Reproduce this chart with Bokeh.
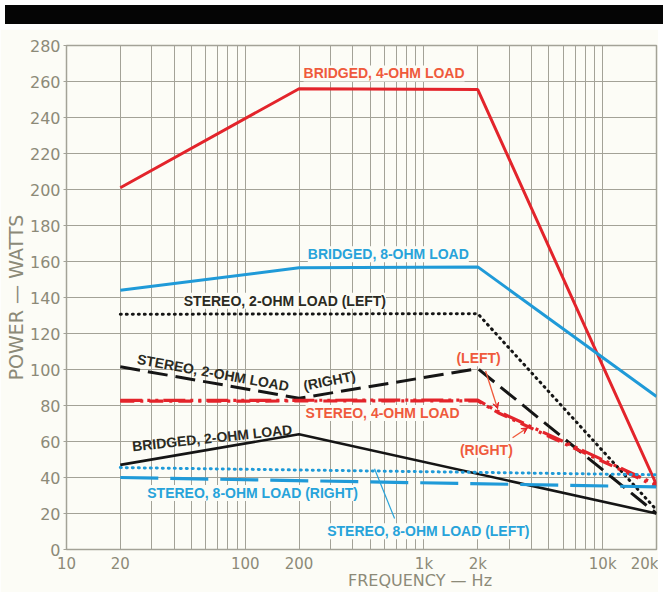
import math
from bokeh.plotting import figure
from bokeh.models import Range1d, FixedTicker, Label, Arrow, VeeHead, Div, Title
from bokeh.layouts import column
from bokeh.embed import file_html
from bokeh.resources import INLINE

# ---------------- data ----------------
freq_major = [10, 20, 100, 200, 1000, 2000, 10000, 20000]
freq_labels = ["10", "20", "100", "200", "1k", "2k", "10k", "20k"]
freq_minor = [30, 40, 50, 60, 70, 80, 90,
              300, 400, 500, 600, 700, 800, 900,
              3000, 4000, 5000, 6000, 7000, 8000, 9000]
power_ticks = [0, 20, 40, 60, 80, 100, 120, 140, 160, 180, 200, 220, 240, 260, 280]

bridged4_f = [20, 200, 2000, 20000]
bridged4_w = [201, 256, 255.5, 36]
bridged8_f = [20, 200, 2000, 20000]
bridged8_w = [144, 156.5, 157, 85]
bridged2_f = [20, 200, 20000]
bridged2_w = [47, 64, 20]
stereo2L_f = [20, 2000, 20000]
stereo2L_w = [130.7, 131, 22]
stereo2R_f = [20, 200, 2000, 20000]
stereo2R_w = [101.5, 84, 100.5, 20]
stereo4L_f = [20, 2000, 2500, 20000]
stereo4L_w = [82.8, 83, 77.5, 36]
stereo4R_f = [20, 2000, 2600, 20000]
stereo4R_w = [82.4, 82.6, 76, 35]
stereo8L_f = [20, 20000]
stereo8L_w = [45.5, 41.5]
stereo8R_f = [20, 20000]
stereo8R_w = [40, 34.8]

# ---------------- styles ----------------
BG = "#fcfcf6"
GRID = "#a3a297"
RED = "#e3242b"
RED_T = "#ef5a3c"
BLUE = "#1f9ad8"
BLUE_T = "#27a3da"
BLACK = "#151515"
BLACK_T = "#2a2a22"
AXIS_T = "#8c8a78"
FONT = "Liberation Sans"
W = 658

bar = Div(text="", width=W, height=19, styles={"background-color": "#050505"})

p = figure(width=W, height=563, x_axis_type="log",
           x_range=Range1d(10, 20000), y_range=Range1d(0, 280),
           output_backend="svg", toolbar_location=None, title=None,
           min_border_left=66, min_border_right=2,
           min_border_top=16, min_border_bottom=40)
p.background_fill_color = BG
p.border_fill_color = BG
p.outline_line_color = GRID
p.outline_line_width = 1.5

p.xaxis.ticker = FixedTicker(ticks=freq_major, minor_ticks=freq_minor)
p.xaxis.major_label_overrides = {float(f): l for f, l in zip(freq_major, freq_labels)}
p.yaxis.ticker = FixedTicker(ticks=power_ticks)
for ax in (p.xaxis, p.yaxis):
    ax.axis_line_color = None
    ax.minor_tick_line_color = None
    ax.major_tick_in = 0
    ax.major_label_text_font = "DejaVu Sans"
    ax.major_label_text_font_size = "16px"
    ax.major_label_text_color = AXIS_T
    ax.major_label_standoff = 3
    ax.major_tick_line_color = GRID
p.xaxis.major_tick_out = 0
p.xaxis.major_label_standoff = 1
p.xaxis.major_label_text_font_size = "15px"
p.yaxis.major_tick_out = 3

# x-axis title: shifted right of the frame centre like the original
p.xaxis.axis_label = "\u00a0" * 23 + "FREQUENCY \u2014 Hz"
p.xaxis.axis_label_standoff = -5
p.xaxis.axis_label_text_font = "DejaVu Sans"
p.xaxis.axis_label_text_font_size = "16px"
p.xaxis.axis_label_text_font_style = "normal"
p.xaxis.axis_label_text_color = AXIS_T

p.add_layout(Title(text="POWER \u2014 WATTS", align="center", standoff=0,
                   text_font="DejaVu Sans", text_font_size="19px",
                   text_font_style="normal", text_color=AXIS_T), "left")

p.xgrid.grid_line_color = GRID
p.xgrid.minor_grid_line_color = GRID
p.ygrid.grid_line_color = GRID
p.xgrid.grid_line_width = 1
p.ygrid.grid_line_width = 1

# ---------------- lines ----------------
p.line(bridged4_f, bridged4_w, line_color=RED, line_width=3)
p.line(bridged8_f, bridged8_w, line_color=BLUE, line_width=3)
p.line(bridged2_f, bridged2_w, line_color=BLACK, line_width=2.6)
p.line(stereo2L_f, stereo2L_w, line_color=BLACK, line_width=3,
       line_dash="1 5", line_cap="round")
p.line(stereo2R_f, stereo2R_w, line_color=BLACK, line_width=3, line_dash="20 8")
p.line(stereo4L_f, stereo4L_w, line_color=RED, line_width=3.2, line_dash="22 5 3 5 3 5")
p.line(stereo4R_f, stereo4R_w, line_color=RED, line_width=3.2, line_dash="14 6 3 6")
p.line(stereo8L_f, stereo8L_w, line_color=BLUE, line_width=3,
       line_dash="1 5", line_cap="round")
p.line(stereo8R_f, stereo8R_w, line_color=BLUE, line_width=3.2, line_dash="38 12")

# ---------------- annotations ----------------
def lab(text, x, y, color, angle=0.0, align="left", bg=True):
    p.add_layout(Label(x=x, y=y, text=text, angle=angle,
                       text_align=align, text_baseline="middle",
                       text_font=FONT, text_font_size="14px", text_font_style="bold",
                       text_color=color,
                       background_fill_color=BG if bg else None))

lab("BRIDGED, 4-OHM LOAD", 212, 264.5, RED_T)
lab("BRIDGED, 8-OHM LOAD", 224, 164, BLUE_T)
lab("STEREO, 2-OHM LOAD (LEFT)", 45.3, 138.2, BLACK_T)
lab("STEREO, 2-OHM LOAD", 24.9, 105.9, BLACK_T, angle=-0.18, bg=False)
lab("(RIGHT)", 212, 90.9, BLACK_T, angle=0.2, bg=False)
lab("(LEFT)", 2021, 106.3, RED_T, align="center")
lab("STEREO, 4-OHM LOAD", 217.5, 75.8, RED_T)
lab("(RIGHT)", 2234, 55.4, RED_T, align="center")
lab("BRIDGED, 2-OHM LOAD", 23.3, 57.3, BLACK_T, angle=0.106, bg=False)
lab("STEREO, 8-OHM LOAD (RIGHT)", 28.3, 31.4, BLUE_T)
lab("STEREO, 8-OHM LOAD (LEFT)", 287.6, 10.1, BLUE_T)

p.add_layout(Arrow(x_start=2212, y_start=99.2, x_end=2582, y_end=78.2,
                   line_color=RED_T, line_width=1.3,
                   end=VeeHead(size=6, fill_color=RED, line_color=RED)))
p.add_layout(Arrow(x_start=3132, y_start=62.1, x_end=3799, y_end=67.6,
                   line_color=RED_T, line_width=1.3,
                   end=VeeHead(size=6, fill_color=RED, line_color=RED)))
p.add_layout(Arrow(x_start=529, y_start=44.9, x_end=685, y_end=17.2,
                   line_color=BLUE_T, line_width=1.2, end=None))

layout = column(bar, p, spacing=0)
open("out.html", "w").write(file_html(layout, INLINE))
